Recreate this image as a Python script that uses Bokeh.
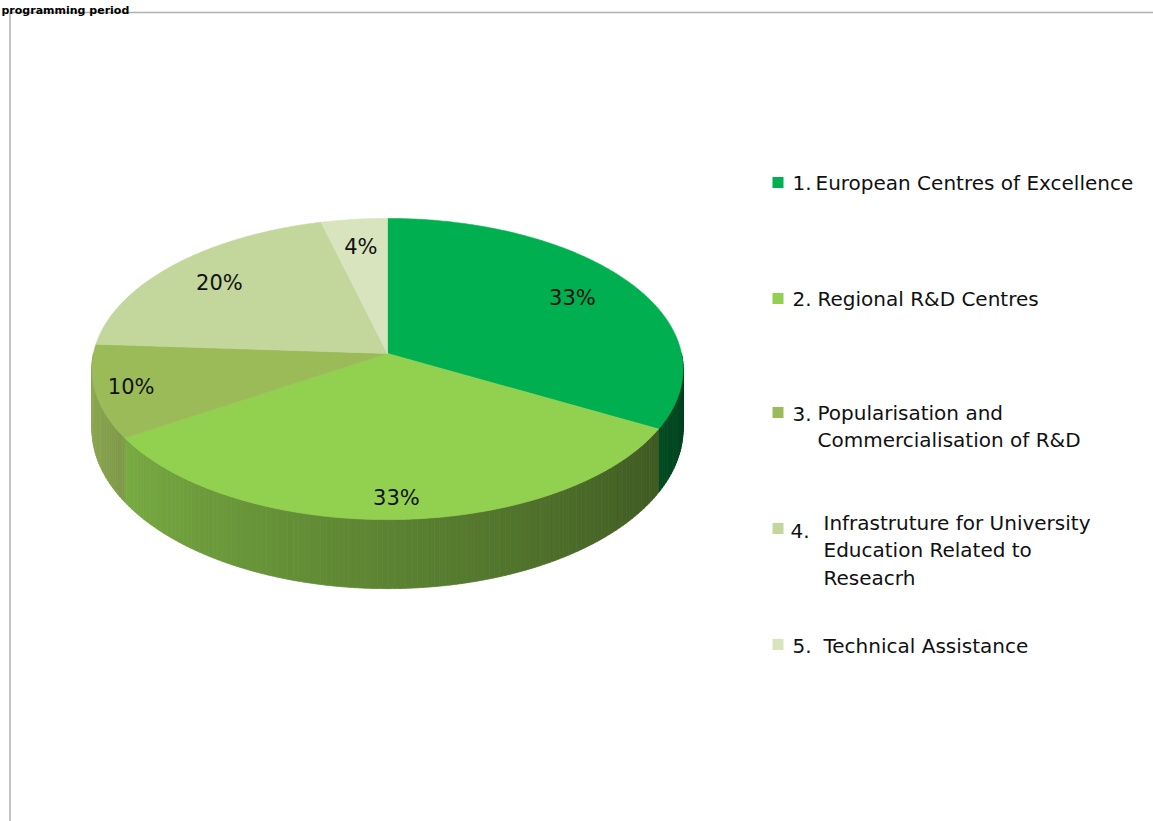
import numpy as np
from bokeh.plotting import figure
from bokeh.models import Range1d, ColumnDataSource
from bokeh.embed import file_html
from bokeh.resources import INLINE
from bokeh.core.properties import value

# ---------------- data ----------------
title_text = "programming period"
shares = [33, 33, 10, 20, 4]
pct_labels = ["33%", "33%", "10%", "20%", "4%"]
legend_numbers = ["1.", "2.", "3.", "4.", "5."]
legend_lines = [
    ["European Centres of Excellence"],
    ["Regional R&D Centres"],
    ["Popularisation and", "Commercialisation of R&D"],
    ["Infrastruture for University", "Education Related to", "Reseacrh"],
    ["Technical Assistance"],
]
colors = ["#00B050", "#92D050", "#9BBB59", "#C3D69B", "#D7E4BD"]

# ---------------- layout ----------------
W, H = 1153, 821
CX = 387.0          # pie centre x (px)
A = 294.0           # horizontal radius
K = 0.103           # perspective factor
TOP_APEX, TOP_B = 353.0, 149.0
BOT_APEX, BOT_B = 412.0, 158.0
label_r = [0.76, 0.88, 0.88, 0.78, 0.78]
FONT = "DejaVu Sans"
TEXT_COLOR = "#111111"

leg_sq_x = 777.5
leg_sq_y = [182, 298, 412, 528, 644]
leg_num_x = [792, 792, 792, 790, 792]
leg_num_y = [182, 298, 413, 530, 645]
leg_text_x = [815, 817, 817, 823, 823]
leg_first_y = [182, 298, 412, 522, 645]
LINE_GAP = 27.5


def proj(phi, r, apex, B):
    rad = np.radians(phi)
    u = r * np.sin(rad)
    v = r * np.cos(rad)
    w = 1 + K * v
    return CX + A * u / w, apex - B * v / w


def hex_to_rgb(h):
    h = h.lstrip("#")
    return np.array([int(h[i:i + 2], 16) for i in (0, 2, 4)], dtype=float)


def rgb_to_hex(c):
    c = np.clip(np.round(c), 0, 255).astype(int)
    return "#%02x%02x%02x" % tuple(c)


def shade(phi):
    return float(np.clip(0.40 + (phi - 110.0) * 0.0033, 0.36, 0.92))


total = float(sum(shares))
cum = np.concatenate([[0.0], np.cumsum(shares)]) / total * 360.0

p = figure(width=W, height=H, x_range=Range1d(0, W), y_range=Range1d(H, 0),
           output_backend="svg", toolbar_location=None, min_border=0,
           x_axis_type=None, y_axis_type=None)
p.grid.visible = False
p.outline_line_color = None
p.background_fill_color = "white"
p.border_fill_color = "white"

# ---- side faces (front half only), shaded strips ----
sxs, sys_, scol = [], [], []
for i in range(len(shares)):
    a, b = cum[i], cum[i + 1]
    lo, hi = max(a, 90.0), min(b, 270.0)
    if lo >= hi:
        continue
    edges = np.append(np.arange(lo, hi, 1.0), hi)
    base = hex_to_rgb(colors[i])
    for s, e in zip(edges[:-1], edges[1:]):
        ph = np.linspace(s, e, 4)
        tx, ty = proj(ph, 1.0, TOP_APEX, TOP_B)
        bx, by = proj(ph[::-1], 1.0, BOT_APEX, BOT_B)
        sxs.append(list(tx) + list(bx))
        sys_.append(list(ty) + list(by))
        scol.append(rgb_to_hex(base * shade((s + e) / 2)))
side_src = ColumnDataSource(dict(xs=sxs, ys=sys_, c=scol))
p.patches("xs", "ys", source=side_src, fill_color="c", line_color="c", line_width=0.8)

# ---- top wedges ----
txs, tys = [], []
for i in range(len(shares)):
    a, b = cum[i], cum[i + 1]
    ph = np.linspace(a, b, max(int((b - a) * 2), 4))
    x, y = proj(ph, 1.0, TOP_APEX, TOP_B)
    txs.append([CX] + list(x))
    tys.append([TOP_APEX] + list(y))
top_src = ColumnDataSource(dict(xs=txs, ys=tys, c=colors))
p.patches("xs", "ys", source=top_src, fill_color="c", line_color="c", line_width=0.6)

# ---- percentage labels ----
mids = (cum[:-1] + cum[1:]) / 2
lx, ly = [], []
for i, m in enumerate(mids):
    x, y = proj(m, label_r[i], TOP_APEX, TOP_B)
    lx.append(float(x))
    ly.append(float(y))
p.text(x=lx, y=ly, text=pct_labels, text_font=value(FONT), text_font_size="21px",
       text_align="center", text_baseline="middle", text_color=TEXT_COLOR)

# ---- legend ----
p.rect(x=[leg_sq_x] * len(colors), y=leg_sq_y, width=11, height=11,
       fill_color=colors, line_color=None)
p.text(x=leg_num_x, y=leg_num_y, text=legend_numbers, text_font=value(FONT),
       text_font_size="20px", text_align="left", text_baseline="middle",
       text_color=TEXT_COLOR)
gx, gy, gt = [], [], []
for i, lines in enumerate(legend_lines):
    for j, t in enumerate(lines):
        gx.append(leg_text_x[i])
        gy.append(leg_first_y[i] + j * LINE_GAP)
        gt.append(t)
p.text(x=gx, y=gy, text=gt, text_font=value(FONT), text_font_size="20px",
       text_align="left", text_baseline="middle", text_color=TEXT_COLOR)

# ---- chart-area border (left and top edges visible) ----
p.line(x=[9.5, 9.5, W + 5], y=[H + 5, 12, 12], line_color="#b0b0b0", line_width=1.5)

# ---- title (small strip above the chart area) ----
p.text(x=[1], y=[9.5], text=[title_text], text_font=value(FONT), text_font_size="11px",
       text_font_style="bold", text_align="left", text_baseline="alphabetic",
       text_color="#000000")

open("out.html", "w").write(file_html(p, INLINE))
